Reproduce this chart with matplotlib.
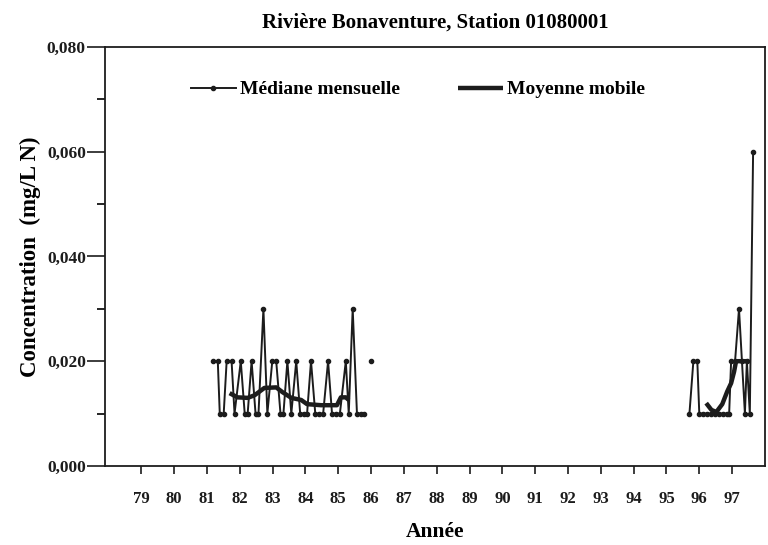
import numpy as np
import matplotlib
matplotlib.use('Agg')
import matplotlib.pyplot as plt
from matplotlib.ticker import MultipleLocator

plt.rcParams['font.family'] = ['Liberation Serif', 'DejaVu Serif']
plt.rcParams['font.weight'] = 'bold'

INK = '#1c1c1c'

# monthly median (year as decimal, value in mg/L N); nan = gap
med_years = [81.18, 81.33, 81.39, 81.51, 81.60, 81.75, 81.84, 82.03, 82.15, 82.24,
             82.36, 82.48, 82.57, 82.72, 82.84, 82.99, 83.11, 83.24, 83.33, 83.45,
             83.57, 83.72, 83.84, 83.96, 84.05, 84.17, 84.30, 84.42, 84.54, 84.69,
             84.81, 84.93, 85.05, 85.23, 85.32, 85.44, 85.57, 85.69, 85.78,
             np.nan, 85.99, np.nan,
             95.70, 95.82, 95.94, 96.00, 96.12, 96.24, 96.36, 96.48, 96.61, 96.73,
             96.85, 96.91, 96.97, 97.09, 97.21, 97.30, 97.39, 97.45, 97.54, 97.64]
med_vals = [0.020, 0.020, 0.010, 0.010, 0.020, 0.020, 0.010, 0.020, 0.010, 0.010,
            0.020, 0.010, 0.010, 0.030, 0.010, 0.020, 0.020, 0.010, 0.010, 0.020,
            0.010, 0.020, 0.010, 0.010, 0.010, 0.020, 0.010, 0.010, 0.010, 0.020,
            0.010, 0.010, 0.010, 0.020, 0.010, 0.030, 0.010, 0.010, 0.010,
            np.nan, 0.020, np.nan,
            0.010, 0.020, 0.020, 0.010, 0.010, 0.010, 0.010, 0.010, 0.010, 0.010,
            0.010, 0.010, 0.020, 0.020, 0.030, 0.020, 0.010, 0.020, 0.010, 0.060]

# moving average
mob_years = [81.69, 81.93, 82.24, 82.45, 82.75, 83.11, 83.30, 83.57, 83.87, 84.05,
             84.48, 84.96, 85.08, 85.23, 85.32,
             np.nan,
             96.21, 96.37, 96.52, 96.70, 96.85, 96.97, 97.06, 97.12, 97.52]
mob_vals = [0.0139, 0.0131, 0.0130, 0.0135, 0.0149, 0.0150, 0.0141, 0.0130, 0.0126, 0.0118,
            0.0116, 0.0116, 0.0131, 0.0131, 0.0126,
            np.nan,
            0.0120, 0.0107, 0.0103, 0.0118, 0.0142, 0.0158, 0.0180, 0.0200, 0.0200]

year_ticks = list(range(79, 98))
y_ticks = [0.0, 0.02, 0.04, 0.06, 0.08]
y_labels = ['0,000', '0,020', '0,040', '0,060', '0,080']

fig = plt.figure(figsize=(7.68, 5.45), dpi=100)
ax = fig.add_axes([0.137, 0.145, 0.859, 0.769])

ax.plot(med_years, med_vals, color=INK, lw=1.4, marker='o', ms=3,
        label='Médiane mensuelle')
ax.plot(mob_years, mob_vals, color=INK, lw=3.2, solid_capstyle='butt',
        label='Moyenne mobile')

ax.set_xlim(77.9, 98.0)
ax.set_ylim(0, 0.08)
ax.set_xticks(year_ticks)
ax.set_xticklabels([str(y) for y in year_ticks], fontsize=12)
ax.set_yticks(y_ticks)
ax.set_yticklabels(y_labels, fontsize=12.5)
ax.yaxis.set_minor_locator(MultipleLocator(0.01))

ax.tick_params(axis='x', direction='out', length=6, width=1.2, pad=12, colors=INK)
ax.tick_params(axis='y', which='major', direction='out', length=13, width=1.2, pad=1, colors=INK)
ax.tick_params(axis='y', which='minor', direction='out', length=6, width=1.2)
for s in ax.spines.values():
    s.set_linewidth(1.3)
    s.set_color(INK)

ax.set_title('Rivière Bonaventure, Station 01080001', fontsize=15,
             fontweight='bold', pad=14)
ax.set_xlabel('Année', fontsize=15.5, fontweight='bold', labelpad=11)
ax.set_ylabel('Concentration  (mg/L N)', fontsize=16.5, fontweight='bold', labelpad=4)

ax.legend(loc='center left', bbox_to_anchor=(0.130, 0.898), ncol=2, frameon=False,
          fontsize=14, handlelength=2.3, handletextpad=0.2, columnspacing=3.0,
          borderpad=0, borderaxespad=0)

fig.savefig('out.png', dpi=100)
